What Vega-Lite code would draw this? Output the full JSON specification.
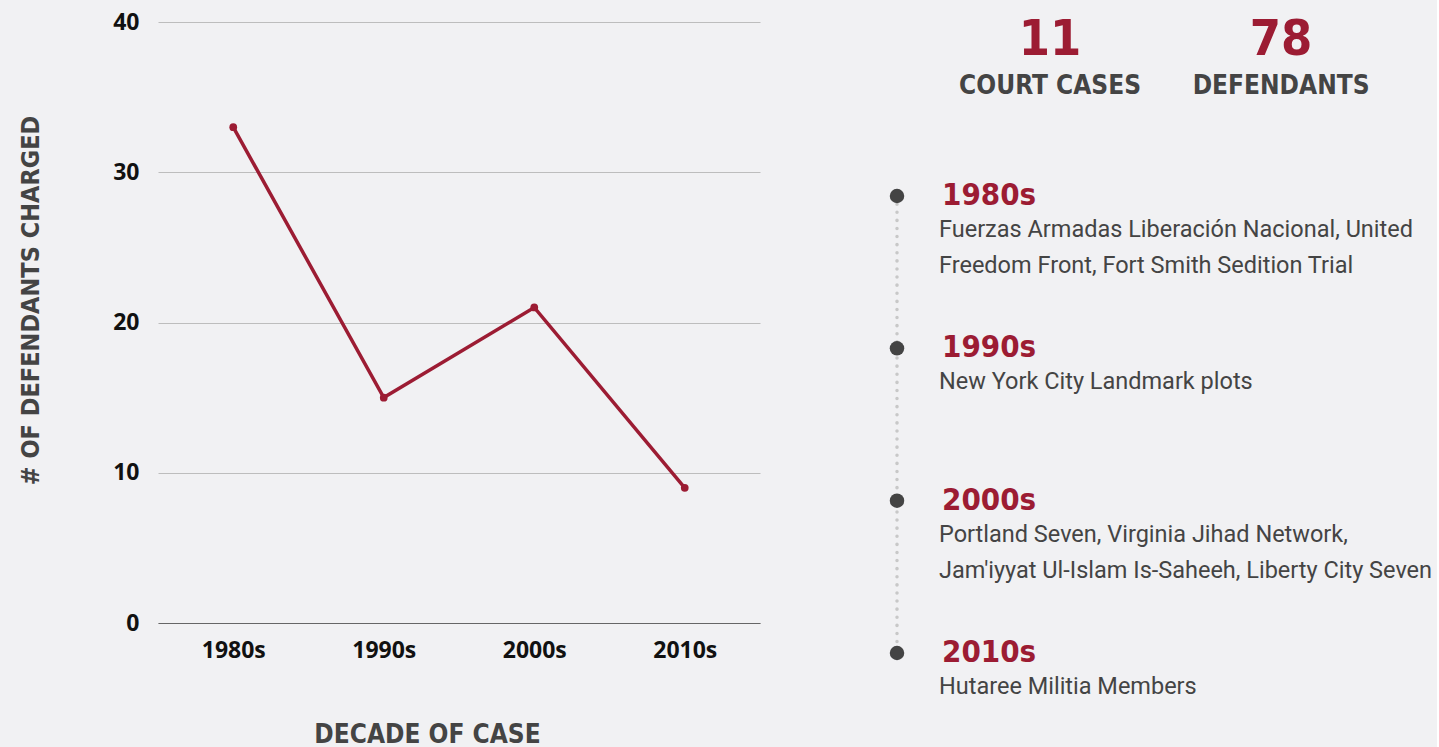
{
  "$schema": "https://vega.github.io/schema/vega-lite/v6.json",
  "background": "#f1f1f3",
  "padding": {"left": 18, "top": 11, "right": 0, "bottom": 0},
  "config": {"view": {"stroke": null}, "font": "DejaVu Sans Condensed"},
  "spacing": 20,
  "hconcat": [
    {
      "width": 602,
      "height": 601,
      "data": {"values": [
        {"decade": "1980s", "defendants": 33},
        {"decade": "1990s", "defendants": 15},
        {"decade": "2000s", "defendants": 21},
        {"decade": "2010s", "defendants": 9}
      ]},
      "encoding": {
        "x": {
          "field": "decade", "type": "ordinal",
          "scale": {"type": "point", "padding": 0.5},
          "axis": {
            "title": "DECADE OF CASE", "labelAngle": 0, "domainColor": "#666", "domainWidth": 1, "ticks": false,
            "labelFont": "Open Sans", "labelFontWeight": "bold", "labelFontSize": 23, "labelColor": "#111", "labelPadding": 16,
            "titleFont": "DejaVu Sans Condensed", "titleFontWeight": "bold", "titleFontSize": 26, "titleColor": "#444", "titlePadding": 59, "titleX": 269
          }
        },
        "y": {
          "field": "defendants", "type": "quantitative",
          "scale": {"domain": [0, 40]},
          "axis": {
            "title": "# OF DEFENDANTS CHARGED", "values": [0, 10, 20, 30, 40], "domain": false, "ticks": false,
            "gridColor": "#bdbdbd", "gridWidth": 1,
            "labelFont": "Open Sans", "labelFontWeight": "bold", "labelFontSize": 23, "labelColor": "#111", "labelPadding": 19,
            "titleFont": "DejaVu Sans Condensed", "titleFontWeight": "bold", "titleFontSize": 25, "titleColor": "#444", "titlePadding": 69, "titleY": 278
          }
        }
      },
      "layer": [
        {"mark": {"type": "line", "color": "#9c1c33", "strokeWidth": 3.5}},
        {"mark": {"type": "circle", "color": "#9c1c33", "size": 60, "opacity": 1}}
      ]
    },
    {
      "spacing": 58,
      "vconcat": [
        {
          "width": 657,
          "height": 100,
          "data": {"values": [
            {"metric": "COURT CASES", "count": 11},
            {"metric": "DEFENDANTS", "count": 78}
          ]},
          "encoding": {
            "x": {"field": "metric", "type": "nominal", "sort": null, "scale": {"type": "point", "padding": 0.922, "align": 0.634}, "axis": null}
          },
          "layer": [
            {"mark": {"type": "text", "font": "DejaVu Sans Condensed", "fontWeight": "bold", "fontSize": 50, "color": "#9c1c33", "baseline": "alphabetic", "dy": -17},
             "encoding": {"text": {"field": "count"}}},
            {"mark": {"type": "text", "font": "DejaVu Sans Condensed", "fontWeight": "bold", "fontSize": 26, "color": "#444", "baseline": "alphabetic", "dy": 22},
             "encoding": {"text": {"field": "metric"}}}
          ]
        },
        {
          "width": 234,
          "height": 457,
          "data": {"values": [
            {"decade": "1980s", "desc": "Fuerzas Armadas Liberación Nacional, United\nFreedom Front, Fort Smith Sedition Trial"},
            {"decade": "1990s", "desc": "New York City Landmark plots"},
            {"decade": "2000s", "desc": "Portland Seven, Virginia Jihad Network,\nJam'iyyat Ul-Islam Is-Saheeh, Liberty City Seven"},
            {"decade": "2010s", "desc": "Hutaree Militia Members"}
          ]},
          "encoding": {
            "y": {"field": "decade", "type": "ordinal", "scale": {"type": "point", "padding": 0}, "axis": null}
          },
          "layer": [
            {"mark": {"type": "line", "color": "#c8c8c8", "strokeWidth": 3.5, "strokeDash": [0.1, 8], "strokeCap": "round"}},
            {"mark": {"type": "circle", "size": 210, "color": "#444", "opacity": 1}},
            {"mark": {"type": "text", "align": "left", "baseline": "middle", "dx": 45, "font": "DejaVu Sans Condensed", "fontWeight": "bold", "fontSize": 31, "color": "#9c1c33"},
             "encoding": {"text": {"field": "decade"}}},
            {"mark": {"type": "text", "align": "left", "baseline": "top", "dx": 42, "dy": 22, "font": "Roboto", "fontSize": 23.5, "color": "#444", "lineBreak": "\n", "lineHeight": 36},
             "encoding": {"text": {"field": "desc"}}}
          ]
        }
      ]
    }
  ]
}
